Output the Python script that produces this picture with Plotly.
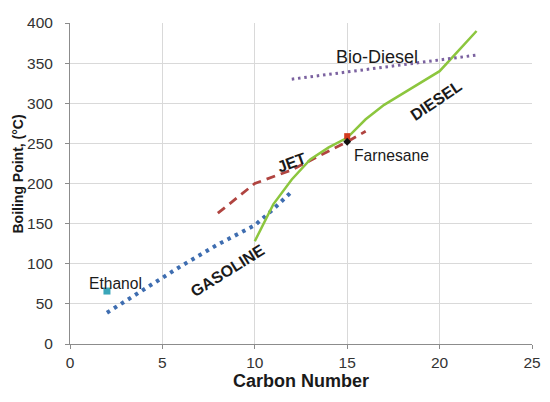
import plotly.graph_objects as go

# boiling point ranges by carbon number
gasoline_c = [2, 4, 6, 8, 10, 11, 12]
gasoline_bp = [39, 68, 97, 124, 148, 168, 190]

jet_c = [8, 10, 12, 14, 15, 16]
jet_bp = [163, 200, 217, 240, 252, 265]

diesel_c = [10, 10.5, 11, 12, 13, 14, 15, 16, 17, 18, 19, 20, 21, 22]
diesel_bp = [128, 150, 174, 205, 230, 245, 257, 280, 298, 312, 326, 340, 365, 390]

biodiesel_c = [12, 22]
biodiesel_bp = [330, 360]

ethanol = (2, 66)
farnesane_c = [15, 15]
farnesane_bp = [259, 252]

FONT = 'Liberation Sans, Arial'

fig = go.Figure()

fig.add_trace(go.Scatter(x=gasoline_c, y=gasoline_bp, mode='lines',
                         line=dict(color='#3e6db0', width=4, dash='3.5px,4.8px')))
fig.add_trace(go.Scatter(x=jet_c, y=jet_bp, mode='lines',
                         line=dict(color='#b04440', width=2.8, dash='9px,6px')))
fig.add_trace(go.Scatter(x=diesel_c, y=diesel_bp, mode='lines',
                         line=dict(color='#8cc63e', width=2.5)))
fig.add_trace(go.Scatter(x=biodiesel_c, y=biodiesel_bp, mode='lines',
                         line=dict(color='#7b62a0', width=3, dash='2.5px,3.8px')))
fig.add_trace(go.Scatter(x=[ethanol[0]], y=[ethanol[1]], mode='markers',
                         marker=dict(symbol='square', size=7, color='#3aa6b9')))
fig.add_trace(go.Scatter(x=farnesane_c, y=farnesane_bp, mode='markers',
                         marker=dict(symbol=['square', 'diamond'], size=6,
                                     color=['#d23a1e', '#111111'])))

labels = [
    dict(x=2.46, y=76, text='Ethanol', size=15.6, angle=0),
    dict(x=8.55, y=91, text='<b>GASOLINE</b>', size=16, angle=-32),
    dict(x=12.0, y=226, text='<b>JET</b>', size=16, angle=-20),
    dict(x=19.8, y=304, text='<b>DIESEL</b>', size=16, angle=-34),
    dict(x=16.6, y=358, text='Bio-Diesel', size=18, angle=0),
    dict(x=17.4, y=235, text='Farnesane', size=15.7, angle=0),
]
for a in labels:
    fig.add_annotation(x=a['x'], y=a['y'], text=a['text'], showarrow=False,
                       textangle=a['angle'],
                       font=dict(family=FONT, color='#1a1a1a', size=a['size']))

# y axis title sits a little above the middle of the plot in the original
fig.add_annotation(xref='paper', yref='paper', x=0, y=0.5, xshift=-53, yshift=9,
                   xanchor='center', yanchor='middle',
                   text='<b>Boiling Point, (°C)</b>', textangle=-90, showarrow=False,
                   font=dict(family=FONT, size=14, color='#1a1a1a'))

axis_common = dict(showgrid=True, gridcolor='#d9d9d9', gridwidth=1,
                   showline=True, linecolor='#8c8c8c', linewidth=1,
                   ticks='outside', ticklen=4, tickcolor='#8c8c8c',
                   zeroline=False, automargin=False,
                   tickfont=dict(family=FONT, size=15.5, color='#333333'))

fig.update_xaxes(range=[0, 25], dtick=5,
                 title=dict(text='<b>Carbon Number</b>', standoff=4,
                            font=dict(family=FONT, size=18, color='#1a1a1a')),
                 **axis_common)
fig.update_yaxes(range=[0, 400], dtick=50, ticklabelstandoff=9, **axis_common)

# page body adds an 8px offset, so margins are shifted to compensate
fig.update_layout(width=550, height=402, showlegend=False,
                  plot_bgcolor='white', paper_bgcolor='white',
                  margin=dict(l=62, r=26, t=15, b=66))

fig.write_html("out.html")
